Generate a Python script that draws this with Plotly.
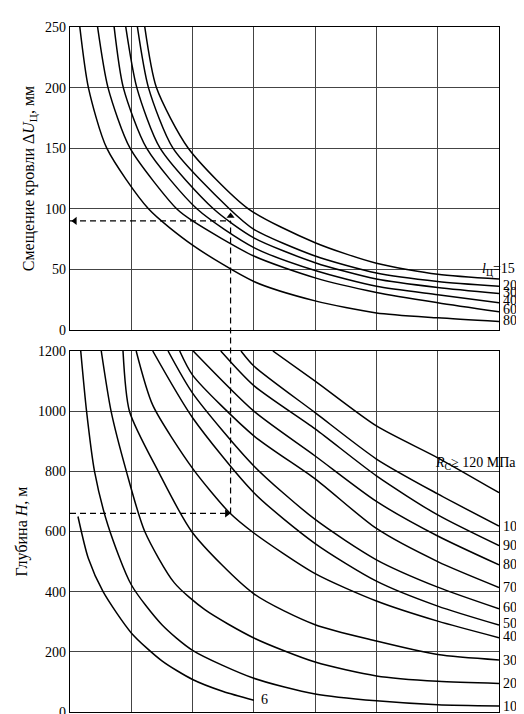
import plotly.graph_objects as go
from plotly.subplots import make_subplots

# ---- top panel: roof displacement, curves by l_ц
top_labels = ["15", "20", "30", "40", "60", "80"]
top_x = [
    [1.22, 1.41, 1.93, 2.91, 4, 5, 6, 7],
    [1.10, 1.28, 1.68, 2.6, 3, 4, 5, 6, 7],
    [0.91, 1.09, 1.47, 2.34, 3, 4, 5, 6, 7],
    [0.72, 0.87, 1.25, 2.07, 3, 4, 5, 6, 7],
    [0.45, 0.62, 0.98, 1.74, 2, 3, 4, 5, 6, 7],
    [0.16, 0.30, 0.60, 1.28, 2, 3, 4, 5, 6, 7],
]
top_y = [
    [250, 200, 150, 100, 72, 55, 46, 42],
    [250, 200, 150, 100, 83, 61, 47, 40, 36],
    [250, 200, 150, 100, 76, 55.5, 42, 35, 30],
    [250, 200, 150, 100, 68, 49, 36, 29, 22.5],
    [250, 200, 150, 100, 90, 61, 43, 31, 22.5, 15],
    [250, 200, 150, 100, 70, 40, 24, 14, 10, 7],
]
top_label_y = [None, 37, 31, 24, 17, 8]

# ---- bottom panel: depth H, curves by R_c
bot_labels = ["120", "100", "90", "80", "70", "60", "50", "40", "30", "20", "10", "6"]
bot_x = [
    [3.31, 4, 5, 6, 7],
    [2.79, 3, 4, 5, 6, 7],
    [2.46, 3, 4, 5, 6, 7],
    [2.01, 3, 4, 5, 6, 7],
    [1.79, 2, 3, 4, 5, 6, 7],
    [1.60, 2, 3, 4, 5, 6, 7],
    [1.35, 2, 3, 4, 5, 6, 7],
    [1.08, 1.35, 2, 2.6, 3, 4, 5, 6, 7],
    [0.865, 0.97, 1.44, 2, 3, 4, 5, 6, 7],
    [0.51, 0.67, 0.92, 1.22, 1.7, 2.2, 3, 4, 5, 6, 7],
    [0.175, 0.27, 0.40, 0.62, 1.0, 1.5, 2, 3, 4, 5, 6, 7],
    [0.13, 0.30, 0.54, 1.0, 1.5, 2, 2.5, 3],
]
bot_y = [
    [1200, 1100, 951, 845, 729],
    [1200, 1150, 995, 841, 725, 618],
    [1200, 1085, 941, 785, 655, 553],
    [1200, 1000, 851, 700, 585, 489],
    [1200, 1120, 918, 775, 610, 500, 414],
    [1200, 1060, 818, 640, 506, 415, 343],
    [1200, 978, 729, 560, 435, 352, 289],
    [1200, 1020, 810, 663, 595, 460, 369, 302, 247],
    [1200, 1000, 800, 596, 393, 290, 236, 191, 173],
    [1200, 1000, 800, 600, 430, 340, 246, 166, 120, 102, 95],
    [1200, 1000, 800, 620, 423, 290, 205, 112, 60, 37, 24, 20],
    [650, 510, 400, 263, 170, 108, 68, 39],
]
bot_label_y = [None, 617, 553, 489, 413, 347, 293, 250, 172, 94, 17, None]

# example construction (dashed)
ex_x = 2.62
ex_H = 660
ex_U = 90

serif = "Liberation Serif"
top_dom = [0.5577, 1.0]
bot_dom = [0.0, 0.527]
XMAX = 7.0

fig = make_subplots(rows=2, cols=1)
line = dict(color="black", width=1.5, shape="spline", smoothing=0.7)
for xs, ys in zip(top_x, top_y):
    fig.add_trace(go.Scatter(x=xs, y=ys, mode="lines", line=line, showlegend=False, hoverinfo="skip"), row=1, col=1)
for xs, ys in zip(bot_x, bot_y):
    fig.add_trace(go.Scatter(x=xs, y=ys, mode="lines", line=line, showlegend=False, hoverinfo="skip"), row=2, col=1)

# arrowheads
fig.add_trace(go.Scatter(x=[0.08], y=[ex_U], mode="markers", marker=dict(symbol="triangle-left", size=7, color="black"),
                         showlegend=False, hoverinfo="skip"), row=1, col=1)
fig.add_trace(go.Scatter(x=[ex_x], y=[ex_U + 4], mode="markers", marker=dict(symbol="triangle-up", size=7, color="black"),
                         showlegend=False, hoverinfo="skip"), row=1, col=1)
fig.add_trace(go.Scatter(x=[ex_x - 0.06], y=[ex_H], mode="markers", marker=dict(symbol="triangle-right", size=7, color="black"),
                         showlegend=False, hoverinfo="skip"), row=2, col=1)

dash = dict(color="black", width=1.2, dash="6px,4px")
fig.add_shape(type="line", xref="x", yref="y", x0=0, x1=ex_x, y0=ex_U, y1=ex_U, line=dash)
fig.add_shape(type="line", xref="x2", yref="y2", x0=0, x1=ex_x - 0.08, y0=ex_H, y1=ex_H, line=dash)
p0 = bot_dom[0] + (bot_dom[1] - bot_dom[0]) * ex_H / 1200
p1 = top_dom[0] + (top_dom[1] - top_dom[0]) * ex_U / 250
fig.add_shape(type="line", xref="x2", yref="paper", x0=ex_x, x1=ex_x, y0=p0, y1=p1, line=dash)

def px(xv):
    return xv / XMAX

f = dict(family=serif, size=14, color="black")
ann = []
for lab, ly in zip(top_labels[1:], top_label_y[1:]):
    ann.append(dict(x=1.004, y=ly, xref="paper", yref="y", text=lab, showarrow=False, xanchor="left", font=f))
ann.append(dict(x=1.07, y=50, xref="paper", yref="y", text="<i>l</i><sub>Ц</sub>=15 м", showarrow=False,
                xanchor="right", font=f))
for lab, ly in zip(bot_labels, bot_label_y):
    if ly is None:
        continue
    ann.append(dict(x=1.004, y=ly, xref="paper", yref="y2", text=lab, showarrow=False, xanchor="left", font=f))
ann.append(dict(x=3.08, y=40, xref="x2", yref="y2", text="6", showarrow=False, xanchor="left", font=f))
ann.append(dict(x=1.045, y=825, xref="paper", yref="y2", text="<i>R</i><sub>C</sub>≥ 120 МПа", showarrow=False,
                xanchor="right", font=f))
fig.update_layout(annotations=ann)

ax = dict(showgrid=True, gridcolor="#444", gridwidth=1, showline=True, linecolor="black", linewidth=1.2, mirror=True,
          zeroline=False, tickfont=dict(family=serif, size=14, color="black"), ticks="", automargin=False)
fig.update_xaxes(range=[0, XMAX], dtick=1, showticklabels=False, domain=[0, 1], **ax)
fig.update_yaxes(**ax)
fig.update_yaxes(range=[0, 250], dtick=50, domain=top_dom, row=1, col=1,
                 title=dict(text="Смещение кровли Δ<i>U</i><sub>Ц</sub>, мм", font=dict(family=serif, size=16, color="black"), standoff=6))
fig.update_yaxes(range=[0, 1200], dtick=200, domain=bot_dom, row=2, col=1,
                 title=dict(text="Глубина <i>H</i>, м", font=dict(family=serif, size=16, color="black"), standoff=6))

fig.update_layout(width=524, height=714, margin=dict(l=62, r=33, t=19, b=10),
                  plot_bgcolor="white", paper_bgcolor="white")
fig.write_html("out.html")
